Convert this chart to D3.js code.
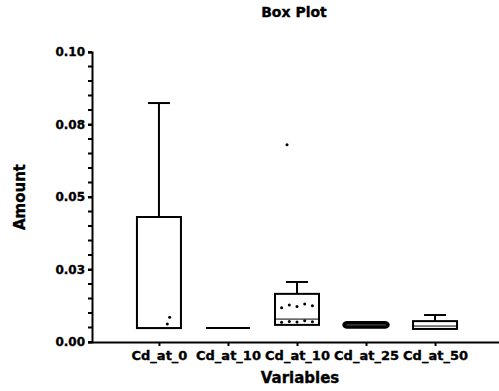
<!DOCTYPE html>
<html>
<head>
<meta charset="utf-8">
<script src="https://cdn.jsdelivr.net/npm/d3@7"></script>
<style>
  body { margin: 0; background: #fff; }
  text { font-family: "DejaVu Sans", Arial, sans-serif; font-weight: bold; fill: #000; stroke: #000; stroke-width: 0.35px; }
</style>
</head>
<body>
<div id="chart"></div>
<script>
const width = 499;
const height = 391;

// data
const categories = ["Cd_at_0", "Cd_at_10", "Cd_at_10", "Cd_at_25", "Cd_at_50"];
const whiskerLow = [0.0048, 0.0048, 0.0059, 0.0052, 0.0045];
const q1 = [0.0048, 0.0048, 0.0059, 0.0052, 0.0045];
const median = [0.0048, 0.0048, 0.0079, 0.0059, 0.0055];
const q3 = [0.0431, 0.0048, 0.0166, 0.0066, 0.0072];
const whiskerHigh = [0.0824, 0.0048, 0.0207, 0.0066, 0.0093];
const outliers = [{ cat: 2, value: 0.068 }];
const points = [
  [0.0062, 0.0085],
  [],
  [0.0068, 0.0071, 0.0069, 0.0073, 0.007, 0.0118, 0.0128, 0.0122, 0.0131, 0.0125],
  [],
  []
];
const yTicks = [0, 0.025, 0.05, 0.075, 0.1];

const margin = { top: 52, bottom: 49, left: 92, right: 0 };
const boxWidth = 44;

const svg = d3.select("#chart")
  .append("svg")
  .attr("width", width)
  .attr("height", height);

const y = d3.scaleLinear()
  .domain([0, 0.1])
  .range([height - margin.bottom, margin.top]);

const x = d3.scalePoint()
  .domain(d3.range(categories.length))
  .range([margin.left, width + 3])
  .padding(0.97);

// title
svg.append("text")
  .attr("x", 294)
  .attr("y", 17)
  .attr("text-anchor", "middle")
  .style("font-size", "14px")
  .text("Box Plot");

// y axis
const yAxis = svg.append("g")
  .attr("transform", `translate(${margin.left},0)`)
  .call(d3.axisLeft(y)
    .tickValues(yTicks)
    .tickSize(4)
    .tickPadding(3)
    .tickFormat(d => (Math.round(d * 100 + 1e-9) / 100).toFixed(2)));

yAxis.select(".domain").attr("stroke-width", 2);
yAxis.selectAll(".tick line").attr("stroke-width", 2);
yAxis.selectAll(".tick text")
  .style("font-size", "12px")
  .style("font-family", "'DejaVu Sans', Arial, sans-serif")
  .style("font-weight", "bold");

// minor ticks
svg.append("g")
  .selectAll("line")
  .data(d3.range(0, 0.1001, 0.005))
  .join("line")
  .attr("x1", margin.left - 4)
  .attr("x2", margin.left)
  .attr("y1", d => y(d))
  .attr("y2", d => y(d))
  .attr("stroke", "#000")
  .attr("stroke-width", 2);

svg.append("text")
  .attr("transform", `translate(25,${y(0.05)}) rotate(-90)`)
  .attr("text-anchor", "middle")
  .style("font-size", "15px")
  .text("Amount");

// x axis
const xAxis = svg.append("g")
  .attr("transform", `translate(0,${y(0)})`)
  .call(d3.axisBottom(x)
    .tickSize(4)
    .tickSizeOuter(0)
    .tickPadding(5)
    .tickFormat(i => categories[i]));

xAxis.select(".domain").attr("stroke-width", 2);
xAxis.selectAll(".tick line").attr("stroke-width", 2);
xAxis.selectAll(".tick text")
  .style("font-size", "13px")
  .style("font-family", "'DejaVu Sans', Arial, sans-serif")
  .style("font-weight", "bold");

svg.append("text")
  .attr("x", 300)
  .attr("y", 383)
  .attr("text-anchor", "middle")
  .style("font-size", "15px")
  .text("Variables");

// boxes
const boxes = svg.append("g")
  .selectAll("g")
  .data(categories.map((c, i) => i))
  .join("g");

boxes.append("line")
  .attr("x1", i => x(i))
  .attr("x2", i => x(i))
  .attr("y1", i => y(q3[i]))
  .attr("y2", i => y(whiskerHigh[i]))
  .attr("stroke", "#000")
  .attr("stroke-width", 2);

boxes.append("line")
  .attr("x1", i => x(i) - boxWidth / 4)
  .attr("x2", i => x(i) + boxWidth / 4)
  .attr("y1", i => y(whiskerHigh[i]))
  .attr("y2", i => y(whiskerHigh[i]))
  .attr("stroke", "#000")
  .attr("stroke-width", i => whiskerHigh[i] > q3[i] ? 2 : 0);

boxes.append("line")
  .attr("x1", i => x(i))
  .attr("x2", i => x(i))
  .attr("y1", i => y(q1[i]))
  .attr("y2", i => y(whiskerLow[i]))
  .attr("stroke", "#000")
  .attr("stroke-width", 2);

boxes.append("rect")
  .attr("x", i => x(i) - boxWidth / 2)
  .attr("width", boxWidth)
  .attr("y", i => y(q3[i]))
  .attr("height", i => y(q1[i]) - y(q3[i]))
  .attr("rx", i => i === 3 ? 3 : 0)
  .attr("fill", "#fff")
  .attr("stroke", "#000")
  .attr("stroke-width", i => i === 3 ? 3.5 : 2);

boxes.append("line")
  .attr("x1", i => x(i) - boxWidth / 2)
  .attr("x2", i => x(i) + boxWidth / 2)
  .attr("y1", i => y(median[i]))
  .attr("y2", i => y(median[i]))
  .attr("stroke", "#000")
  .attr("stroke-width", i => q1[i] === q3[i] ? 2 : 1);

// data points inside boxes
boxes.each(function(i) {
  const vals = points[i];
  d3.select(this).selectAll("circle")
    .data(vals)
    .join("circle")
    .attr("cx", (d, k) => x(i) + boxWidth * 0.35 * (vals.length > 1 ? ((k % 5) / 4 - 0.5) * 2 : 0) * (i === 0 ? 0.3 : 1) + (i === 0 ? 13 : 0))
    .attr("cy", d => y(d))
    .attr("r", 1.5)
    .attr("fill", "#000");
});

// outliers
svg.append("g")
  .selectAll("circle")
  .data(outliers)
  .join("circle")
  .attr("cx", d => x(d.cat) - 10)
  .attr("cy", d => y(d.value))
  .attr("r", 1.5)
  .attr("fill", "#000");
</script>
</body>
</html>
